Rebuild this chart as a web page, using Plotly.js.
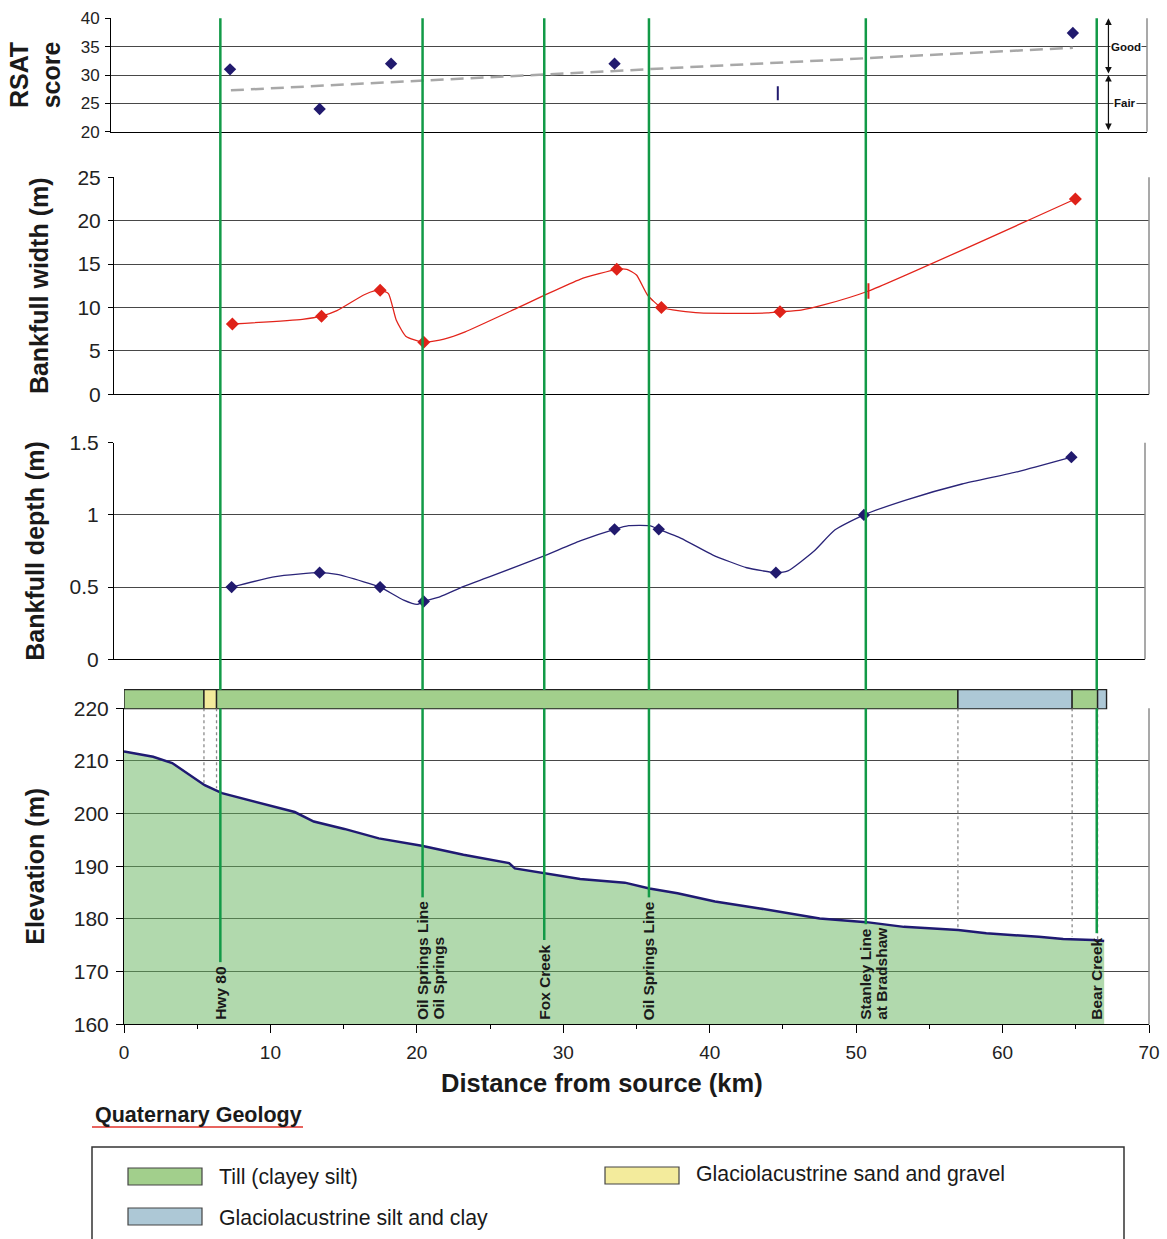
<!DOCTYPE html>
<html><head><meta charset="utf-8">
<script src="https://cdn.plot.ly/plotly-3.0.1.min.js"></script>
<style>body{margin:0;padding:0;background:#fff}#chart{width:1167px;height:1239px}</style>
</head><body><div id="chart"></div>
<script>
// ---------------- DATA ----------------
// RSAT score
const rsatKm = [7.24, 13.36, 18.24, 33.5, 44.65, 64.8];
const rsatScore = [31, 24, 32, 32, 26.8, 37.4];
const rsatSymbol = ['diamond','diamond','diamond','diamond','line-ns','diamond'];
const rsatTrendKm = [7.3, 64.8];
const rsatTrendScore = [27.3, 34.8];
const rsatBands = ['Good', 'Fair'];
const rsatBandTop = [40, 30];
const rsatBandBottom = [30, 20];

// Bankfull width (measured points)
const widthKm = [7.4, 13.49, 17.49, 20.47, 33.65, 36.7, 44.8, 50.84, 64.97];
const widthM  = [8.1, 9.0, 12.0, 6.0, 14.4, 10.0, 9.5, 11.9, 22.5];
const widthSymbol = ['diamond','diamond','diamond','diamond','diamond','diamond','diamond','line-ns','diamond'];
// Bankfull width curve as drawn
const widthCurveKm = [7.4, 12.18, 13.49, 14.54, 16.37, 17.15, 17.49, 18.06, 18.59, 19.24, 20.47, 21.85, 23.3, 26.8, 28.65, 31.15, 33.65, 34.34, 35.0, 35.75, 36.7, 39.33, 43.93, 44.8, 46.24, 47.77, 50.84, 64.97];
const widthCurveM  = [8.1, 8.64, 9.0, 9.63, 11.44, 11.94, 12.0, 11.6, 8.56, 6.7, 6.0, 6.37, 7.2, 9.9, 11.36, 13.25, 14.4, 14.4, 13.74, 11.44, 10.0, 9.37, 9.37, 9.5, 9.71, 10.29, 11.9, 22.5];

// Bankfull depth (measured points)
const depthKm = [7.35, 13.36, 17.49, 20.47, 33.5, 36.52, 44.52, 50.53, 64.7];
const depthM  = [0.5, 0.6, 0.5, 0.4, 0.9, 0.9, 0.6, 1.0, 1.4];
// Bankfull depth curve as drawn
const depthCurveKm = [7.35, 10.35, 13.36, 14.54, 16.37, 17.49, 19.1, 20.02, 20.47, 21.6, 23.16, 24.99, 28.65, 31.15, 33.5, 34.47, 35.88, 36.52, 38.05, 40.22, 42.53, 44.52, 45.34, 47.13, 48.54, 50.53, 53.39, 57.23, 61.07, 64.7];
const depthCurveM  = [0.5, 0.573, 0.6, 0.588, 0.537, 0.5, 0.41, 0.38, 0.4, 0.434, 0.503, 0.572, 0.715, 0.82, 0.9, 0.925, 0.925, 0.9, 0.838, 0.722, 0.634, 0.6, 0.612, 0.75, 0.895, 1.0, 1.103, 1.214, 1.30, 1.4];

// Elevation profile
const elevKm = [0, 1.99, 3.29, 4.99, 5.51, 6.69, 9.83, 11.66, 12.96, 15.05, 17.4, 20.33, 23.18, 26.3, 26.69, 28.65, 31.15, 34.2, 35.88, 37.8, 40.36, 43.42, 45.72, 47.51, 50.71, 53.26, 56.97, 58.89, 62.47, 64.14, 66.18, 66.94];
const elevM  = [211.8, 210.8, 209.6, 206.5, 205.4, 203.9, 201.6, 200.3, 198.5, 197.1, 195.3, 193.9, 192.2, 190.6, 189.6, 188.7, 187.6, 186.9, 185.8, 184.9, 183.3, 182.0, 181.0, 180.1, 179.4, 178.5, 177.9, 177.3, 176.6, 176.2, 176.0, 175.8];

// Quaternary geology along the channel
const geoStartKm = [0, 5.46, 6.32, 56.95, 64.75, 66.49];
const geoEndKm   = [5.46, 6.32, 56.95, 64.75, 66.49, 67.1];
const geoUnit    = ['Till (clayey silt)', 'Glaciolacustrine sand and gravel', 'Till (clayey silt)', 'Glaciolacustrine silt and clay', 'Till (clayey silt)', 'Glaciolacustrine silt and clay'];
const geoBoundaryElev = [205.8, 204.8, 178.2, 176.6, 175.8];
const legendUnits = ['Till (clayey silt)', 'Glaciolacustrine sand and gravel', 'Glaciolacustrine silt and clay'];
const unitColor = {'Till (clayey silt)': '#a2cf8c', 'Glaciolacustrine sand and gravel': '#f3eb9c', 'Glaciolacustrine silt and clay': '#adc8d6'};

// Landmarks (crossings)
const landmarkKm = [6.58, 20.39, 28.7, 35.85, 50.66, 66.43];
const landmarkLabel = [['Hwy 80'], ['Oil Springs Line', 'Oil Springs'], ['Fox Creek'], ['Oil Springs Line'], ['Stanley Line', 'at Bradshaw'], ['Bear Creek']];
const landmarkLineEnd = [171.8, 184.1, 176.0, 184.1, 179.0, 177.3];

// ---------------- LAYOUT HELPERS ----------------
const W = 1167, H = 1239;
const fx = p => p / W;
const fy = p => 1 - p / H;
const px0 = 124, pxPerKm = 1025 / 70;
const kmRange = (l, r) => [(l - px0) / pxPerKm, (r - px0) / pxPerKm];
const FONT = 'Arial, "Liberation Sans", sans-serif';
const GRID = '#474747';

function yAxis(top, bottom, range, dtick, title, tsize, anchor, standoff, lblOff, tlen) {
  return {
    domain: [fy(bottom), fy(top)], range: range, dtick: dtick, tick0: range[0], anchor: anchor,
    showgrid: true, gridcolor: GRID, gridwidth: 1, zeroline: false,
    showline: true, linecolor: '#000', linewidth: 1,
    ticks: 'outside', ticklen: tlen, tickcolor: '#000', ticklabelstandoff: lblOff,
    tickfont: {size: tsize, family: FONT, color: '#222'},
    title: {text: title, font: {size: 25, family: FONT, color: '#1a1a1a', weight: 'bold'}, standoff: standoff},
    fixedrange: true
  };
}
function xAxisTop(l, r, anchor) {
  return {domain: [fx(l), fx(r)], range: kmRange(l, r), anchor: anchor, showgrid: false, zeroline: false,
    showline: true, linecolor: '#000', linewidth: 1, ticks: '', showticklabels: false, fixedrange: true};
}
const pick = (arr, sym, want) => arr.filter((_, i) => sym[i] === want);

// ---------------- TRACES ----------------
const traces = [];
// RSAT
traces.push({x: rsatTrendKm, y: rsatTrendScore, xaxis: 'x', yaxis: 'y', mode: 'lines',
  line: {color: '#a8a8a8', width: 2.5, dash: '13px,7px'}, hoverinfo: 'skip'});
traces.push({x: pick(rsatKm, rsatSymbol, 'diamond'), y: pick(rsatScore, rsatSymbol, 'diamond'), xaxis: 'x', yaxis: 'y', mode: 'markers',
  marker: {symbol: 'diamond', size: 9.5, color: '#211a6e', opacity: 1}});
traces.push({x: pick(rsatKm, rsatSymbol, 'line-ns'), y: pick(rsatScore, rsatSymbol, 'line-ns'), xaxis: 'x', yaxis: 'y', mode: 'markers',
  marker: {symbol: 'line-ns', size: 10, color: '#211a6e', line: {color: '#211a6e', width: 2}}});
// Width
traces.push({x: widthCurveKm, y: widthCurveM, xaxis: 'x2', yaxis: 'y2', mode: 'lines',
  line: {color: '#e3241b', width: 1.3, shape: 'spline', smoothing: 0.5}, hoverinfo: 'skip'});
traces.push({x: pick(widthKm, widthSymbol, 'diamond'), y: pick(widthM, widthSymbol, 'diamond'), xaxis: 'x2', yaxis: 'y2', mode: 'markers',
  marker: {symbol: 'diamond', size: 10, color: '#df2219', opacity: 1}});
traces.push({x: pick(widthKm, widthSymbol, 'line-ns'), y: pick(widthM, widthSymbol, 'line-ns'), xaxis: 'x2', yaxis: 'y2', mode: 'markers',
  marker: {symbol: 'line-ns', size: 11, color: '#df2219', line: {color: '#df2219', width: 2}}});
// Depth
traces.push({x: depthCurveKm, y: depthCurveM, xaxis: 'x3', yaxis: 'y3', mode: 'lines',
  line: {color: '#2a2478', width: 1.3, shape: 'spline', smoothing: 0.5}, hoverinfo: 'skip'});
traces.push({x: depthKm, y: depthM, xaxis: 'x3', yaxis: 'y3', mode: 'markers',
  marker: {symbol: 'diamond', size: 9.5, color: '#211a6e'}});
// Elevation
traces.push({x: elevKm, y: elevM, xaxis: 'x4', yaxis: 'y4', mode: 'lines', fill: 'tozeroy',
  fillcolor: 'rgba(100,180,92,0.5)', line: {color: '#1f1a72', width: 2.5}});
// Geology bar
traces.push({type: 'bar', orientation: 'h', xaxis: 'x4', yaxis: 'y5',
  y: geoUnit.map(() => 'geo'), base: geoStartKm, x: geoEndKm.map((e, i) => e - geoStartKm[i]),
  width: 1, marker: {color: geoUnit.map(u => unitColor[u]), line: {color: '#222', width: 1.4}},
  hovertext: geoUnit, hoverinfo: 'text'});

// ---------------- SHAPES & ANNOTATIONS ----------------
const shapes = [];
const annotations = [];

// right-hand frame edges
[['x','y'],['x2','y2'],['x3','y3'],['x4','y4']].forEach(([xa, ya]) => {
  shapes.push({type: 'line', xref: xa + ' domain', yref: ya + ' domain', x0: 1, x1: 1, y0: 0, y1: 1,
    line: {color: '#8c8c8c', width: 1.5}});
});

// geology boundary dotted lines
geoBoundaryElev.forEach((e, i) => {
  shapes.push({type: 'line', xref: 'x4', yref: 'y4', x0: geoEndKm[i], x1: geoEndKm[i], y0: 220, y1: e,
    line: {color: '#8a8a8a', width: 1.3, dash: 'dot'}, layer: 'above'});
});

// landmark green lines + labels
landmarkKm.forEach((k, i) => {
  shapes.push({type: 'line', xref: 'x4', yref: 'paper', x0: k, x1: k, y0: fy(690), y1: fy(18.3),
    line: {color: '#129a47', width: 2.5}, layer: 'above'});
  shapes.push({type: 'line', xref: 'x4', yref: 'y4', x0: k, x1: k, y0: 220, y1: landmarkLineEnd[i],
    line: {color: '#129a47', width: 2.5}, layer: 'above'});
  landmarkLabel[i].forEach((t, j) => {
    annotations.push({text: t, xref: 'x4', yref: 'paper', x: k, y: fy(1022), xanchor: 'center', yanchor: 'bottom',
      xshift: j * 15.5, textangle: -90, showarrow: false,
      font: {size: 15.5, family: FONT, color: '#1a1a1a', weight: 'bold'}});
  });
});

// RSAT rating bands
rsatBands.forEach((b, i) => {
  annotations.push({text: '', xref: 'x', yref: 'y', x: 67.23, y: rsatBandTop[i], ax: 67.23, ay: rsatBandBottom[i],
    axref: 'x', ayref: 'y', showarrow: true, arrowside: 'end+start', arrowhead: 2, arrowsize: 1.1, arrowwidth: 1.2, arrowcolor: '#111'});
  annotations.push({text: b, xref: 'x', yref: 'y', x: 67.23, y: (rsatBandTop[i] + rsatBandBottom[i]) / 2,
    xanchor: 'left', xshift: b === 'Good' ? 2 : 5, showarrow: false, bgcolor: '#fff', borderpad: 0,
    font: {size: 11.5, family: FONT, color: '#111', weight: 'bold'}});
});

// x-axis title
annotations.push({text: 'Distance from source (km)', xref: 'paper', yref: 'paper', x: fx(602), y: fy(1083),
  xanchor: 'center', yanchor: 'middle', showarrow: false,
  font: {size: 25.5, family: FONT, color: '#1a1a1a', weight: 'bold'}});

// Legend
annotations.push({text: 'Quaternary Geology', xref: 'paper', yref: 'paper', x: fx(93), y: fy(1115),
  xanchor: 'left', yanchor: 'middle', showarrow: false,
  font: {size: 21.5, family: FONT, color: '#1a1a1a', weight: 'bold'}});
shapes.push({type: 'line', xref: 'paper', yref: 'paper', x0: fx(92), x1: fx(303), y0: fy(1127), y1: fy(1127),
  line: {color: '#e0302a', width: 1.5}});
shapes.push({type: 'rect', xref: 'paper', yref: 'paper', x0: fx(92), x1: fx(1124), y0: fy(1147), y1: fy(1260),
  line: {color: '#333', width: 1.5}, fillcolor: 'rgba(0,0,0,0)'});
const legPos = [[128, 1168, 1177], [605, 1167, 1174], [128, 1208, 1218]];
legendUnits.forEach((u, i) => {
  const [lx, ly, ty] = legPos[i];
  shapes.push({type: 'rect', xref: 'paper', yref: 'paper', x0: fx(lx), x1: fx(lx + 74), y0: fy(ly + 17), y1: fy(ly),
    line: {color: '#444', width: 1.2}, fillcolor: unitColor[u]});
  annotations.push({text: u, xref: 'paper', yref: 'paper', x: fx(lx + 89), y: fy(ty), xanchor: 'left', yanchor: 'middle',
    showarrow: false, font: {size: 21.3, family: FONT, color: '#1a1a1a'}});
});

// ---------------- LAYOUT ----------------
const layout = {
  width: W, height: H, margin: {l: 0, r: 0, t: 0, b: 0},
  paper_bgcolor: '#fff', plot_bgcolor: 'rgba(255,255,255,0)',
  showlegend: false, barmode: 'overlay', bargap: 0,
  font: {family: FONT, color: '#222'},
  xaxis: xAxisTop(111, 1147, 'y'),
  yaxis: yAxis(18.3, 131.7, [20, 40], 5, 'RSAT<br>score', 17, 'x', 12, 2, 5),
  xaxis2: xAxisTop(114, 1149, 'y2'),
  yaxis2: yAxis(177.3, 394.3, [0, 25], 5, 'Bankfull width (m)', 21, 'x2', 21, 3, 5),
  xaxis3: xAxisTop(114, 1145, 'y3'),
  yaxis3: yAxis(442.7, 659.3, [0, 1.5], 0.5, 'Bankfull depth (m)', 21, 'x3', 17, 5, 5),
  xaxis4: {domain: [fx(124), fx(1149)], range: [0, 70], anchor: 'y4', dtick: 10, tick0: 0,
    showgrid: false, zeroline: false, showline: true, linecolor: '#000', linewidth: 1,
    ticks: 'outside', ticklen: 8, tickcolor: '#000', ticklabelstandoff: 3,
    minor: {dtick: 5, ticks: 'outside', ticklen: 4, tickcolor: '#000', showgrid: false},
    tickfont: {size: 19, family: FONT, color: '#222'}, fixedrange: true},
  yaxis4: yAxis(708.3, 1024.3, [160, 220], 10, 'Elevation (m)', 21, 'x4', 21, 3, 7),
  yaxis5: {domain: [fy(709.5), fy(689)], range: [-0.53, 0.53], anchor: 'x4', visible: false, fixedrange: true,
    type: 'category'},
  shapes: shapes,
  annotations: annotations
};

Plotly.newPlot('chart', traces, layout, {displayModeBar: false, staticPlot: true});
</script>
</body></html>
